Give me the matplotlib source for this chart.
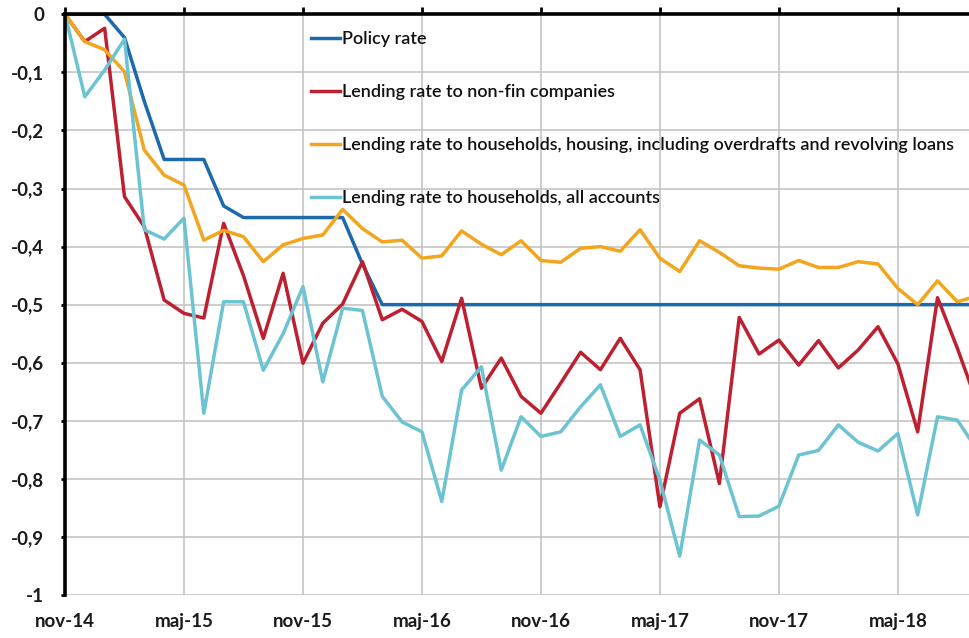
import matplotlib
matplotlib.use("Agg")
import matplotlib.pyplot as plt
import numpy as np

# change since nov-14, percentage points, monthly
policy_rate = [0, 0, 0, -0.04, -0.15, -0.25, -0.25, -0.25, -0.33, -0.35, -0.35, -0.35,
               -0.35, -0.35, -0.35, -0.43, -0.5, -0.5, -0.5, -0.5, -0.5, -0.5, -0.5, -0.5,
               -0.5, -0.5, -0.5, -0.5, -0.5, -0.5, -0.5, -0.5, -0.5, -0.5, -0.5, -0.5,
               -0.5, -0.5, -0.5, -0.5, -0.5, -0.5, -0.5, -0.5, -0.5, -0.5, -0.5]
non_fin = [0, -0.047, -0.024, -0.314, -0.366, -0.492, -0.515, -0.523, -0.360, -0.45,
           -0.558, -0.446, -0.601, -0.532, -0.499, -0.426, -0.526, -0.508, -0.529, -0.598,
           -0.489, -0.644, -0.592, -0.658, -0.687, -0.635, -0.582, -0.612, -0.558, -0.612,
           -0.848, -0.687, -0.662, -0.808, -0.522, -0.585, -0.561, -0.604, -0.562, -0.609,
           -0.578, -0.538, -0.602, -0.719, -0.488, -0.575, -0.67]
housing = [0, -0.047, -0.061, -0.099, -0.234, -0.277, -0.294, -0.389, -0.372, -0.383,
           -0.426, -0.397, -0.386, -0.380, -0.336, -0.369, -0.392, -0.389, -0.420, -0.416,
           -0.373, -0.396, -0.414, -0.390, -0.424, -0.427, -0.403, -0.400, -0.408, -0.371,
           -0.420, -0.443, -0.390, -0.410, -0.433, -0.437, -0.439, -0.424, -0.436, -0.436,
           -0.426, -0.430, -0.472, -0.500, -0.459, -0.495, -0.485]
households_all = [0, -0.142, -0.096, -0.043, -0.371, -0.387, -0.351, -0.687, -0.495, -0.495,
                  -0.613, -0.550, -0.469, -0.633, -0.506, -0.510, -0.658, -0.702, -0.719, -0.839,
                  -0.647, -0.607, -0.785, -0.693, -0.727, -0.719, -0.676, -0.638, -0.727, -0.707,
                  -0.802, -0.933, -0.733, -0.759, -0.865, -0.864, -0.847, -0.759, -0.751, -0.707,
                  -0.737, -0.752, -0.722, -0.862, -0.693, -0.699, -0.75]

labels = ["Policy rate",
          "Lending rate to non-fin companies",
          "Lending rate to households, housing, including overdrafts and revolving loans",
          "Lending rate to households, all accounts"]
tick_labels = ["nov-14", "maj-15", "nov-15", "maj-16", "nov-16", "maj-17", "nov-17", "maj-18"]
y_ticks = [0, -0.1, -0.2, -0.3, -0.4, -0.5, -0.6, -0.7, -0.8, -0.9, -1]
y_tick_labels = ["0", "-0,1", "-0,2", "-0,3", "-0,4", "-0,5", "-0,6", "-0,7", "-0,8", "-0,9", "-1"]

colors = ["#1c6aab", "#bd2030", "#f2a51d", "#6cc4d2"]

plt.rcParams["font.family"] = ["Lato", "DejaVu Sans"]

fig = plt.figure(figsize=(9.69, 6.38), dpi=100)
ax = fig.add_axes([65 / 969, 1 - 595 / 638, 904 / 969, (595 - 14.3) / 638])

x = np.arange(len(policy_rate))
for series, lab, col in zip([policy_rate, non_fin, housing, households_all], labels, colors):
    ax.plot(x, series, color=col, lw=2.5, label=lab)

ax.set_xlim(0, 904 / 19.83)
ax.set_ylim(-1, 0)

ax.set_xticks(x[::6])
ax.set_xticklabels(tick_labels, fontsize=13.5, fontweight="bold")
ax.set_yticks(y_ticks)
ax.set_yticklabels(y_tick_labels, fontsize=13.5, fontweight="bold")

ax.grid(True, color="#c0c0c0", lw=1.1)
ax.set_axisbelow(True)

for side in ["right", "bottom"]:
    ax.spines[side].set_visible(False)
ax.spines["left"].set_linewidth(2.6)
ax.spines["top"].set_linewidth(2.6)
ax.spines["left"].set_color("black")
ax.spines["top"].set_color("black")

ax.tick_params(axis="x", bottom=False, top=True, labelbottom=True, labeltop=False,
               direction="out", length=5, width=2, pad=8, colors="black")
ax.tick_params(axis="y", direction="out", length=3, width=2, pad=12, colors="black")
for t in ax.get_xticklabels() + ax.get_yticklabels():
    t.set_color("#1a1a1a")

leg = ax.legend(loc="upper left", bbox_to_anchor=((311 - 65) / 904, 1 - (31 - 14.3) / 580.7),
                frameon=False, prop={"size": 13, "weight": "semibold"},
                handlelength=1.6, handletextpad=0.1,
                labelspacing=2.05, borderpad=0, borderaxespad=0)
for t in leg.get_texts():
    t.set_color("#111111")

fig.savefig("out.png", dpi=100)
